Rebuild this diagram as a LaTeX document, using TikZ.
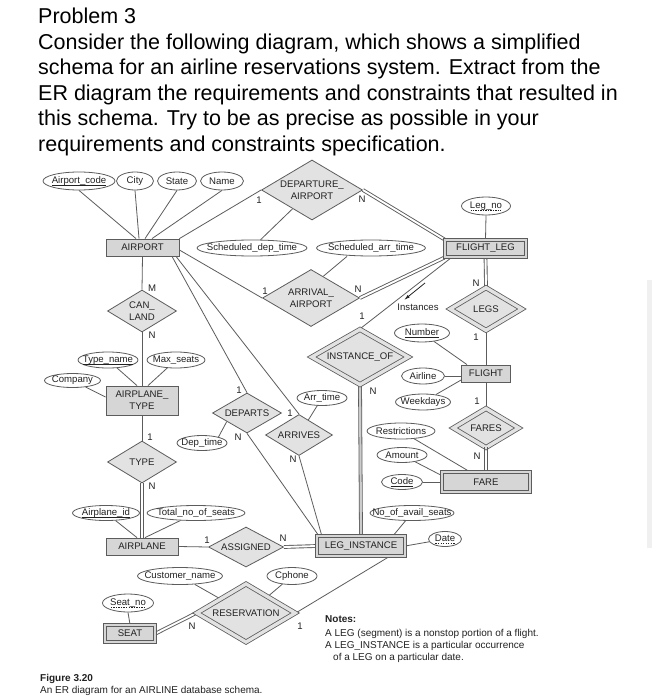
\documentclass[tikz,border=0pt]{standalone}
\usepackage{fontspec}
\setmainfont{Liberation Sans}
\usetikzlibrary{shapes.geometric,calc,arrows.meta}
\pgfdeclarelayer{back}
\pgfdeclarelayer{bg}
\pgfsetlayers{back,bg,main}
\definecolor{entfill}{HTML}{D6D6D6}
\definecolor{relfill}{HTML}{E2E2E2}
\definecolor{edge}{HTML}{5C5C5C}
\definecolor{ink}{HTML}{222222}
\newcommand{\sul}[1]{\setbox0\hbox{#1}\rlap{\raisebox{-2.4pt}{\rule{\wd0}{0.5pt}}}\box0}
\newcommand{\dul}[1]{\setbox0\hbox{#1}\rlap{\raisebox{-2.4pt}{\hbox to \wd0{\xleaders\hbox to 2.4pt{\hss\rule{1.4pt}{0.5pt}\hss}\hfill}}}\box0}
\tikzset{
 erbase/.style={font=\fontsize{9.6}{12.5}\selectfont, text=ink, line width=0.8pt, draw=edge, inner sep=0pt},
 ent/.style={erbase, rectangle, fill=entfill, minimum height=17pt, align=center},
 went/.style={ent, double=entfill, double distance=2.2pt},
 rel/.style={erbase, diamond, fill=relfill, align=center},
 wrel/.style={rel, double=relfill, double distance=3.4pt},
 attr/.style={erbase, ellipse, fill=white, inner xsep=-30pt, inner ysep=-10pt},
 card/.style={font=\fontsize{9.6}{11}\selectfont, text=ink, inner sep=0pt},
 conn/.style={line width=0.8pt, draw=edge},
 tot/.style={line width=0.9pt, draw=edge, double=white, double distance=1.9pt},
 thk/.style={conn, double=gray!40, double distance=2.2pt},
 head/.style={anchor=base west, inner sep=0pt, font=\fontsize{21.5}{25}\selectfont, text=black},
 note/.style={anchor=base west, inner sep=0pt, font=\fontsize{10}{12}\selectfont, text=ink},
}
\begin{document}
\begin{tikzpicture}[x=1pt,y=-1pt]
\useasboundingbox (0,0) rectangle (658,700);
\begin{pgfonlayer}{back}
\fill[white] (0,0) rectangle (658,700);
\end{pgfonlayer}

% header
\node[head] (h1) at (38,24) {Problem 3};
\node[head] (h2) at (38,49.5) {Consider the following diagram, which shows a simplified};
\node[head] (h3) at (38,75) {schema for an airline reservations system. Extract from the};
\node[head] (h4) at (38,100.5) {ER diagram the requirements and constraints that resulted in};
\node[head] (h5) at (38,126) {this schema. Try to be as precise as possible in your};
\node[head] (h6) at (38,151.5) {requirements and constraints specification.};

% side bar
\fill[gray!12] (647,280) rectangle (652,548);

% entities
\node[ent, minimum width=73pt] (airport) at (142.5,247.5) {AIRPORT};
\node[went, minimum width=81.5pt, minimum height=17.5pt] (flightleg) at (485.5,248.5) {FLIGHT\_LEG};
\node[ent, minimum width=49pt] (flight) at (486,373.5) {FLIGHT};
\node[went, minimum width=88.5pt, minimum height=19.5pt] (farebox) at (486,482) {FARE};
\node[went, minimum width=87.5pt, minimum height=19.5pt] (leginst) at (361,546) {LEG\_INSTANCE};
\node[ent, minimum width=72pt, minimum height=29pt, font=\fontsize{9.6}{12}\selectfont] (aptype) at (142,400.5) {AIRPLANE\_\\TYPE};
\node[ent, minimum width=72pt] (airplane) at (142,546.5) {AIRPLANE};
\node[went, minimum width=50.5pt, minimum height=17.5pt] (seat) at (130,633.5) {SEAT};

% relationships
\node[rel, minimum width=101pt, minimum height=60pt, aspect=1.68] (deparr) at (312,190) {DEPARTURE\_\\AIRPORT};
\node[rel, minimum width=97pt, minimum height=57pt, aspect=1.7] (arrival) at (311,298) {ARRIVAL\_\\AIRPORT};
\node[wrel, minimum width=72pt, minimum height=43pt, aspect=1.67] (legs) at (486,309) {LEGS};
\node[wrel, minimum width=97pt, minimum height=55.5pt, aspect=1.75] (instof) at (360,357) {INSTANCE\_OF};
\node[wrel, minimum width=65.7pt, minimum height=39.4pt, aspect=1.67] (faresrel) at (486,428) {FARES};
\node[rel, minimum width=69pt, minimum height=42pt, aspect=1.64] (canland) at (142,311) {CAN\_\\LAND};
\node[rel, minimum width=69pt, minimum height=42pt, aspect=1.64] (typerel) at (142,462) {TYPE};
\node[rel, minimum width=69pt, minimum height=40pt, aspect=1.72] (departs) at (247,413) {DEPARTS};
\node[rel, minimum width=67pt, minimum height=41pt, aspect=1.63] (arrives) at (299,435) {ARRIVES};
\node[rel, minimum width=75pt, minimum height=40pt, aspect=1.87] (assigned) at (246,547) {ASSIGNED};
\node[wrel, minimum width=98.6pt, minimum height=58.4pt, aspect=1.69] (reserv) at (246,613) {RESERVATION};

% attributes
\node[attr, minimum width=72pt, minimum height=18pt] (ac) at (79,181) {\sul{Airport\_code}};
\node[attr, minimum width=37pt, minimum height=18pt] (city) at (135,181) {City};
\node[attr, minimum width=39pt, minimum height=18pt] (state) at (177,181) {State};
\node[attr, minimum width=43pt, minimum height=18pt] (name) at (222,181) {Name};
\node[attr, minimum width=110pt, minimum height=16pt] (sdt) at (252,248) {Scheduled\_dep\_time};
\node[attr, minimum width=109pt, minimum height=16pt] (sat) at (371,248) {Scheduled\_arr\_time};
\node[attr, minimum width=49pt, minimum height=18pt] (legno) at (486,206) {\dul{Leg\_no}};
\node[attr, minimum width=55pt, minimum height=18pt] (number) at (422,333) {\sul{Number}};
\node[attr, minimum width=43pt, minimum height=16pt] (airline) at (423,376) {Airline};
\node[attr, minimum width=55pt, minimum height=16pt] (weekdays) at (423,402) {Weekdays};
\node[attr, minimum width=68pt, minimum height=16pt] (restr) at (401,431) {Restrictions};
\node[attr, minimum width=50pt, minimum height=15pt] (amount) at (402,455) {Amount};
\node[attr, minimum width=41pt, minimum height=15pt] (code) at (402,482) {\sul{Code}};
\node[attr, minimum width=84pt, minimum height=15pt] (noavail) at (412,513) {No\_of\_avail\_seats};
\node[attr, minimum width=33pt, minimum height=15pt] (date) at (445,539) {\dul{Date}};
\node[attr, minimum width=50pt, minimum height=15pt] (arrtime) at (322,398) {Arr\_time};
\node[attr, minimum width=50pt, minimum height=15pt] (deptime) at (202,443) {Dep\_time};
\node[attr, minimum width=60pt, minimum height=16pt] (typename) at (108,360) {\sul{Type\_name}};
\node[attr, minimum width=58pt, minimum height=16pt] (maxseats) at (176,360) {Max\_seats};
\node[attr, minimum width=56pt, minimum height=14pt] (company) at (72.5,380.5) {Company};
\node[attr, minimum width=67pt, minimum height=15pt] (airplaneid) at (106,513) {\sul{Airplane\_id}};
\node[attr, minimum width=98pt, minimum height=15pt] (totalseats) at (196,513) {Total\_no\_of\_seats};
\node[attr, minimum width=85pt, minimum height=17pt] (custname) at (180,576) {Customer\_name};
\node[attr, minimum width=50pt, minimum height=17pt] (cphone) at (292,576) {Cphone};
\node[attr, minimum width=51pt, minimum height=18pt] (seatno) at (128,603) {\dul{Seat\_no}};

% cardinalities
\node[card] (k1) at (259,200) {1};
\node[card] (k2) at (362,199) {N};
\node[card] (k3) at (265,291) {1};
\node[card] (k4) at (358,289) {N};
\node[card] (k5) at (476,283) {N};
\node[card] (k6) at (476,337) {1};
\node[card] (k7) at (362,316) {1};
\node[card] (k8) at (373,391) {N};
\node[card] (k9) at (477,401) {1};
\node[card] (k10) at (477,456) {N};
\node[card] (k11) at (152,288) {M};
\node[card] (k12) at (152,335) {N};
\node[card] (k13) at (150,437) {1};
\node[card] (k14) at (152,486) {N};
\node[card] (k15) at (239,390) {1};
\node[card] (k16) at (238,437) {N};
\node[card] (k17) at (290,413) {1};
\node[card] (k18) at (293,459) {N};
\node[card] (k19) at (207,540) {1};
\node[card] (k20) at (283,538) {N};
\node[card] (k21) at (192,626) {N};
\node[card] (k22) at (300,626) {1};

% instances arrow
\coordinate (ia) at (425,283);
\coordinate (ib) at (404,300);
\draw[line width=0.8pt, draw=ink, -{Latex[length=6pt,width=3.2pt]}] (ia) -- (ib);
\node[card] (inst) at (418,307) {Instances};

% notes and caption
\node[note] (n1) at (325,622) {\bfseries Notes:};
\node[note] (n2) at (325,636) {A LEG (segment) is a nonstop portion of a flight.};
\node[note] (n3) at (325,648) {A LEG\_INSTANCE is a particular occurrence};
\node[note] (n4) at (333,660) {of a LEG on a particular date.};
\node[note] (f1) at (40,681) {\bfseries Figure 3.20};
\node[note] (f2) at (40,693.5) {An ER diagram for an AIRLINE database schema.};

% vertical total-participation lines, drawn on top
\draw[conn] ($(typerel.south)+(-1.5,0)$) -- ($(airplane.north)+(-1.5,0)$);
\draw[conn] ($(typerel.south)+(1.5,0)$) -- ($(airplane.north)+(1.5,0)$);
\draw[conn] ($(faresrel.south)+(-1.5,-1)$) -- ($(farebox.north)+(-1.5,-2)$);
\draw[conn] ($(faresrel.south)+(1.5,-1)$) -- ($(farebox.north)+(1.5,-2)$);

\begin{pgfonlayer}{bg}
\draw[conn] (ac.south) -- ([xshift=-6.5pt]airport.north);
\draw[conn] (city.south) -- ([xshift=-3.5pt]airport.north);
\draw[conn] (state.south) -- ([xshift=2.5pt]airport.north);
\draw[conn] (name.south) -- ([xshift=9.5pt]airport.north);
\draw[conn] (airport.north east) -- (deparr.west);
\draw[conn] ([yshift=-2.5pt]airport.east) -- (arrival.west);
\draw[conn] ([xshift=29.5pt]airport.south) -- (departs.north);
\draw[conn] ([xshift=33.5pt]airport.south) -- (arrives.north);
\draw[conn] (airport.south) -- (canland.north);
\draw[conn] (canland.south) -- (aptype.north);
\draw[conn] (aptype.south) -- (typerel.north);
\draw[conn] (typename) -- ([xshift=-5pt]aptype.north);
\draw[conn] (maxseats) -- ([xshift=6pt]aptype.north);
\draw[conn] (company) -- ([yshift=3.5pt]aptype.west);
\draw[tot] (deparr.east) -- (flightleg.north west);
\draw[conn] (deparr) -- (sdt);
\draw[conn] ([xshift=-24pt]sat.south) -- ($(arrival.north)!0.25!(arrival.east)$);
\draw[tot] (arrival.east) -- (flightleg.south west);
\draw[conn] ([xshift=7pt]flightleg.south west) -- (instof.north);
\draw[conn] (legno.south) -- (flightleg.north);
\draw[tot] (flightleg.south) -- (legs.north);
\draw[conn] (legs.south) -- (flight.north);
\draw[conn] (number) -- ([xshift=-19pt]flight.north);
\draw[conn] (airline) -- ([yshift=-2.5pt]flight.west);
\draw[conn] (weekdays) -- ([yshift=-6.5pt]flight.west);
\draw[conn] (flight.south) -- (faresrel.north);
\draw[conn] (restr) -- ([xshift=-16pt]farebox.north);
\draw[conn] (amount) -- ([yshift=-3.5pt]farebox.north west);
\draw[conn] (code) -- (farebox.west);
\draw[thk] (instof.south) -- (leginst.north);
\draw[conn] (departs.south) -- ([xshift=2pt]leginst.north west);
\draw[conn] (arrives.south) -- ([xshift=5pt]leginst.north west);
\draw[conn] (arrtime) -- (arrives);
\draw[conn] (deptime.20) -- ($(departs.west)!0.42!(departs.south)$);
\draw[conn] (airplaneid) -- ([xshift=-5pt]airplane.north);
\draw[conn] (totalseats) -- ([xshift=3pt]airplane.north);
\draw[conn] (airplane.east) -- (assigned.west);
\draw[tot] (assigned.east) -- (leginst.west);
\draw[conn] (noavail) -- ([xshift=32pt]leginst.north);
\draw[conn] (date) -- (leginst.east);
\draw[conn] ([xshift=29pt]leginst.south) -- (reserv.east);
\draw[conn] ($(reserv.west)!0.48!(reserv.north)$) -- (custname);
\draw[conn] ($(reserv.north)!0.44!(reserv.east)$) -- (cphone);
\draw[conn] (seatno.south) -- (seat.north);
\draw[tot] (seat.east) -- (reserv.west);
\end{pgfonlayer}
\end{tikzpicture}
\end{document}
